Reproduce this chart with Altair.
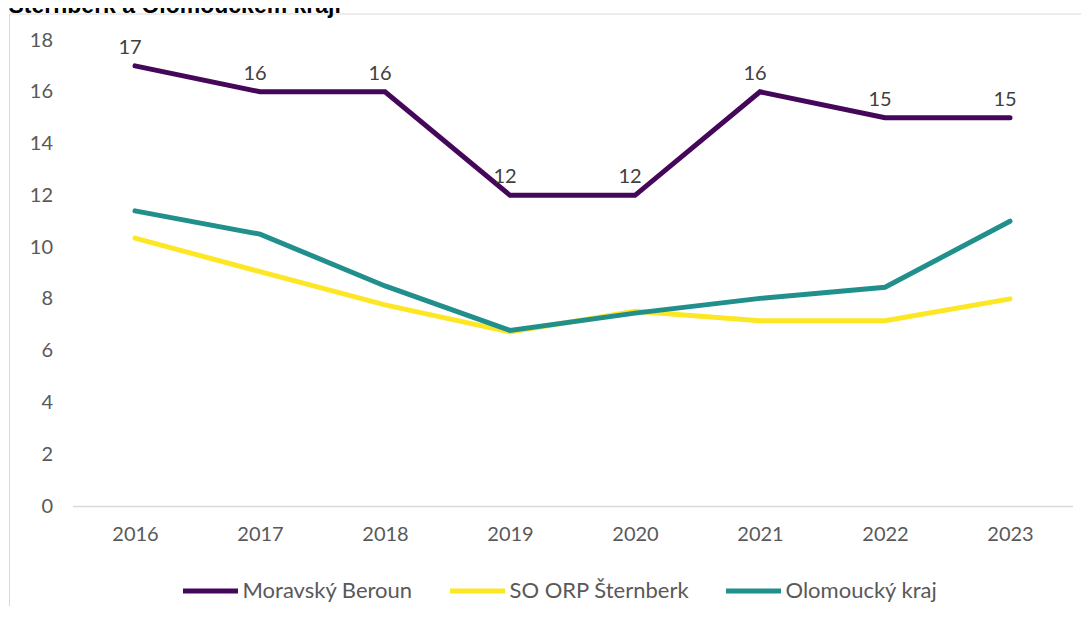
import altair as alt
import pandas as pd

years = ["2016", "2017", "2018", "2019", "2020", "2021", "2022", "2023"]
moravsky_beroun = [17, 16, 16, 12, 12, 16, 15, 15]
so_orp_sternberk = [10.35, 9.05, 7.77, 6.72, 7.52, 7.16, 7.16, 8.0]
olomoucky_kraj = [11.4, 10.5, 8.5, 6.78, 7.45, 8.02, 8.45, 11.0]

series_names = ["Moravský Beroun", "SO ORP Šternberk", "Olomoucký kraj"]
series_colors = ["#45075a", "#fde725", "#21908c"]
title_text = "Šternberk a Olomouckém kraji"
y_ticks = [0, 2, 4, 6, 8, 10, 12, 14, 16, 18]

rows = []
for name, vals in zip(series_names, [moravsky_beroun, so_orp_sternberk, olomoucky_kraj]):
    for yr, v in zip(years, vals):
        rows.append({"rok": yr, "serie": name, "hodnota": v})
df = pd.DataFrame(rows)

FONT = "Lato"
GRAY = "#595959"

x_enc = alt.X("rok:O", title=None, sort=years,
              scale=alt.Scale(type="point", padding=0.5),
              axis=alt.Axis(labelAngle=0, labelFontSize=20, labelColor=GRAY, labelFont=FONT,
                            labelPadding=18, ticks=False, domainColor="#d9d9d9", domainWidth=1.5,
                            grid=False))
y_enc = alt.Y("hodnota:Q", title=None,
              scale=alt.Scale(domain=[0, 18], nice=False),
              axis=alt.Axis(values=y_ticks, labelFontSize=20, labelColor=GRAY, labelFont=FONT,
                            labelPadding=20, ticks=False, domain=False, grid=False))
color_enc = alt.Color("serie:N", sort=series_names,
                      scale=alt.Scale(domain=series_names, range=series_colors),
                      legend=alt.Legend(title=None, orient="none", direction="horizontal",
                                        legendX=108, legendY=521,
                                        symbolType="stroke", symbolSize=3025, symbolStrokeWidth=5,
                                        labelFontSize=22, labelColor=GRAY, labelFont=FONT,
                                        labelLimit=400, labelOffset=2, columnPadding=26))

base = alt.Chart(df)

def line_for(name):
    return base.transform_filter(alt.datum.serie == name).mark_line(
        strokeWidth=5, strokeCap="round"
    ).encode(x=x_enc, y=y_enc, color=color_enc)

labels = base.transform_filter(alt.datum.serie == series_names[0]).mark_text(
    fontSize=20, font=FONT, color="#404040", baseline="bottom", dy=-8, dx=-5
).encode(x=x_enc, y=y_enc, text=alt.Text("hodnota:Q", format="d"))

frame_left = alt.Chart(pd.DataFrame({"a": [0]})).mark_rule(color="#d9d9d9", strokeWidth=1).encode(
    x=alt.value(-63), y=alt.value(-26), y2=alt.value(600))
frame_top = alt.Chart(pd.DataFrame({"a": [0]})).mark_rule(color="#d9d9d9", strokeWidth=1).encode(
    x=alt.value(-63), x2=alt.value(1010), y=alt.value(-26))
title = alt.Chart(pd.DataFrame({"t": [title_text]})).mark_text(
    font="Liberation Sans", fontWeight="bold", fontSize=23, color="#000000",
    align="left", baseline="alphabetic"
).encode(x=alt.value(-64), y=alt.value(-27), text="t:N")

chart = alt.layer(
    frame_left, frame_top, title,
    line_for(series_names[1]), line_for(series_names[2]), line_for(series_names[0]),
    labels,
).properties(
    width=1000, height=466,
    background="white",
    autosize=alt.AutoSizeParams(type="none"),
    padding={"left": 64.5, "top": 32, "right": 8.5, "bottom": 100},
).configure_view(strokeWidth=0, stroke="transparent")

chart.save("out.html", embed_options={"renderer": "svg", "actions": False})
